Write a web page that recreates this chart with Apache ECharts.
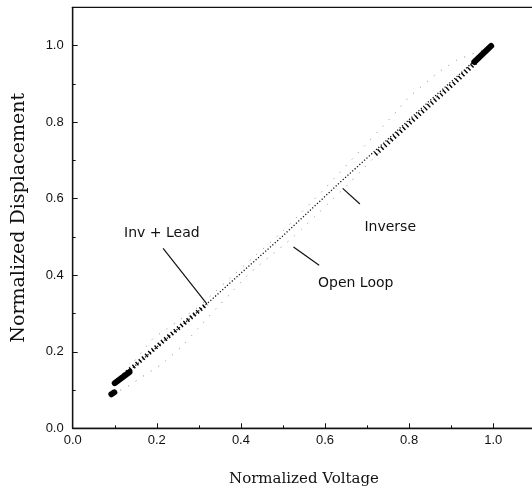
<!DOCTYPE html>
<html>
<head>
<meta charset="utf-8">
<script src="https://cdn.jsdelivr.net/npm/echarts@6/dist/echarts.min.js"></script>
<style>
html,body{margin:0;padding:0;background:#fff;}
#c{width:532px;height:491px;}
</style>
</head>
<body>
<div id="c"></div>
<script>
// ---- data ----
var xTickLabels = ['0.0','0.2','0.4','0.6','0.8','1.0'];
var yTickLabels = ['0.0','0.2','0.4','0.6','0.8','1.0'];

// Inverse controller trace (dense thin dots along the diagonal)
var inverseX = [0.097,0.200,0.327,0.422,0.494,0.636,0.750,0.850,0.930,0.990];
var inverseY = [0.115,0.212,0.333,0.427,0.497,0.643,0.756,0.857,0.935,0.997];

// Open loop (faint hysteresis loop)
var openX = [0.093,0.125,0.160,0.210,0.259,0.330,0.420,0.525,0.650,0.750,0.850,0.930,0.990,
             0.952,0.913,0.870,0.800,0.762,0.700,0.600,0.500,0.400,0.300,0.191,0.120,0.097];
var openY = [0.091,0.105,0.131,0.166,0.213,0.300,0.405,0.500,0.632,0.745,0.850,0.932,0.996,
             0.979,0.962,0.931,0.866,0.818,0.745,0.627,0.515,0.418,0.318,0.235,0.140,0.117];

// Inverse + lead (bold ladder segments at the slow ends of the sweep)
var leadX = [0.099,0.150,0.215,0.270,0.319,null,0.720,0.780,0.850,0.910,0.960];
var leadY = [0.117,0.166,0.228,0.279,0.325,null,0.716,0.776,0.846,0.905,0.958];

// Dense turnaround clusters
var turnX = [0.092,0.099,null,0.100,0.135,null,0.955,0.995];
var turnY = [0.089,0.094,null,0.118,0.147,null,0.957,0.999];

// Annotations
var annTexts = ['Inv + Lead','Inverse','Open Loop'];
var annTextAt = [[0.212,0.510],[0.755,0.526],[0.673,0.380]];
var annFrom = [[0.215,0.470],[0.683,0.586],[0.586,0.426]];
var annTo = [[0.319,0.325],[0.642,0.627],[0.525,0.474]];

function pairs(xs, ys){
  var out = [];
  for (var i = 0; i < xs.length; i++) {
    out.push(xs[i] === null ? [null, null] : [xs[i], ys[i]]);
  }
  return out;
}

var chart = echarts.init(document.getElementById('c'), null, {renderer:'canvas'});

function tickFmt(labels){
  return function(v){
    var s = v.toFixed(1);
    return labels.indexOf(s) >= 0 ? s : '';
  };
}

var axisCommon = {
  type:'value', min:0, max:1.1, interval:0.2,
  axisLine:{show:true, lineStyle:{color:'#111', width:1.3}},
  axisTick:{show:true, inside:true, length:5, lineStyle:{color:'#111', width:1}},
  minorTick:{show:true, splitNumber:2, length:3, lineStyle:{color:'#111', width:1}},
  splitLine:{show:false},
  minorSplitLine:{show:false}
};

var option = {
  animation:false,
  backgroundColor:'#fff',
  grid:{left:72.7, right:-3.3, top:7.3, bottom:62.7, show:true, borderColor:'#111', borderWidth:1.2, containLabel:false, outerBoundsMode:'none'},
  xAxis: Object.assign({}, axisCommon, {
    name:'Normalized Voltage', nameLocation:'middle', nameGap:43,
    nameTextStyle:{fontFamily:'DejaVu Serif', fontSize:15, color:'#111'},
    axisLabel:{formatter:tickFmt(xTickLabels), margin:6, fontFamily:'Liberation Sans', fontSize:13, color:'#111'}
  }),
  yAxis: Object.assign({}, axisCommon, {
    name:'Normalized Displacement', nameLocation:'middle', nameGap:44,
    nameTextStyle:{fontFamily:'DejaVu Serif', fontSize:19, color:'#111'},
    axisLabel:{formatter:tickFmt(yTickLabels), margin:9, fontFamily:'Liberation Sans', fontSize:13, color:'#111'}
  }),
  series:[
    {name:'Open Loop', type:'line', data:pairs(openX, openY), symbol:'none', connectNulls:false,
     lineStyle:{color:'#888', width:1, type:[1,8], cap:'butt'}},
    {name:'Inverse', type:'line', data:pairs(inverseX, inverseY), symbol:'none',
     lineStyle:{color:'#111', width:1.3, type:[1.2,2], cap:'butt'}},
    {name:'Inv + Lead', type:'line', data:pairs(leadX, leadY), symbol:'none', connectNulls:false,
     lineStyle:{color:'#000', width:4.5, type:[1.4,2.8], cap:'butt'}},
    {name:'Turnaround', type:'line', data:pairs(turnX, turnY), symbol:'none', connectNulls:false,
     lineStyle:{color:'#000', width:6, cap:'round'}}
  ]
};
chart.setOption(option);

var g = [];
for (var i = 0; i < annTexts.length; i++) {
  var p = chart.convertToPixel({gridIndex:0}, annTextAt[i]);
  var a = chart.convertToPixel({gridIndex:0}, annFrom[i]);
  var b = chart.convertToPixel({gridIndex:0}, annTo[i]);
  g.push({type:'line', shape:{x1:a[0], y1:a[1], x2:b[0], y2:b[1]}, style:{stroke:'#111', lineWidth:1.2}, z:10});
  g.push({type:'text', x:p[0], y:p[1], style:{text:annTexts[i], fill:'#111', font:'14px "DejaVu Sans"', align:'center', verticalAlign:'middle'}, z:10});
}
chart.setOption({graphic:g});
</script>
</body>
</html>
